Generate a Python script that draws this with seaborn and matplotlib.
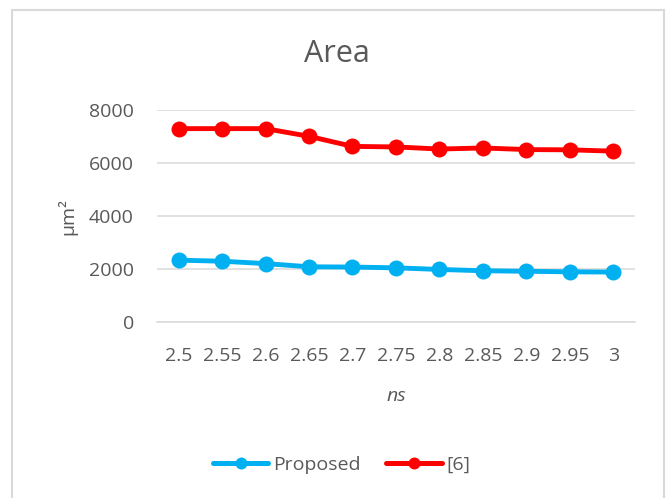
import matplotlib
matplotlib.use("Agg")
import matplotlib.pyplot as plt
from matplotlib.patches import Rectangle
import seaborn as sns
import pandas as pd

# Delay values (ns) and area results
delays = ["2.5", "2.55", "2.6", "2.65", "2.7", "2.75", "2.8", "2.85", "2.9", "2.95", "3"]
proposed = [2340, 2300, 2210, 2090, 2080, 2050, 1990, 1940, 1920, 1900, 1890]
ref6 = [7300, 7300, 7300, 7010, 6630, 6610, 6530, 6570, 6510, 6500, 6450]
series_names = ["Proposed", "[6]"]
y_ticks = [0, 2000, 4000, 6000, 8000]

df = pd.DataFrame({
    "delay": delays * 2,
    "area": proposed + ref6,
    "series": [series_names[0]] * len(delays) + [series_names[1]] * len(delays),
})

sns.set_theme(style="white")
plt.rcParams["font.family"] = ["Open Sans", "DejaVu Sans"]

text_color = "#595959"
grid_color = "#D9D9D9"
palette = {"Proposed": "#00B0F0", "[6]": "#FF0000"}
fs = 14

fig = plt.figure(figsize=(6.7, 4.98), dpi=100)
ax = fig.add_axes([0.234, 0.353, 0.714, 0.426])

sns.lineplot(data=df, x="delay", y="area", hue="series", palette=palette,
             marker="o", markersize=11.5, markeredgewidth=0, linewidth=3.5,
             sort=False, ax=ax, legend=False)

ax.set_xlim(-0.5, len(delays) - 0.5)
ax.set_ylim(0, 8000)
ax.set_yticks(y_ticks)
ax.set_yticklabels([str(v) for v in y_ticks])
ax.yaxis.grid(True, color=grid_color, linewidth=1.1)
ax.set_axisbelow(True)
for side in ["top", "right", "left"]:
    ax.spines[side].set_visible(False)
ax.spines["bottom"].set_color(grid_color)
ax.spines["bottom"].set_linewidth(1.1)
ax.tick_params(axis="both", length=0, labelsize=fs, colors=text_color)
ax.tick_params(axis="x", pad=18)
ax.tick_params(axis="y", pad=16.5)

ax.set_xlabel("ns", fontsize=fs, color=text_color, style="italic", labelpad=16)
ax.set_ylabel("μm²", fontsize=fs, color=text_color, labelpad=8)

fig.text(0.503, 0.892, "Area", ha="center", va="center", fontsize=22, color=text_color)

# Legend below the plot
handles = [plt.Line2D([], [], color=palette[n], linewidth=3.6, marker="o",
                      markersize=8.6, markeredgewidth=0) for n in series_names]
fig.legend(handles, series_names, loc="center", bbox_to_anchor=(0.51, 0.066),
           ncol=2, frameon=False, fontsize=fs, labelcolor=text_color,
           handlelength=2.85, handletextpad=0.25, columnspacing=1.3)

# Chart area border
fig.patches.append(Rectangle((0.018, -0.02), 0.973, 1.0, transform=fig.transFigure,
                             fill=False, edgecolor=grid_color, linewidth=1.5))

fig.savefig("out.png", dpi=100)
